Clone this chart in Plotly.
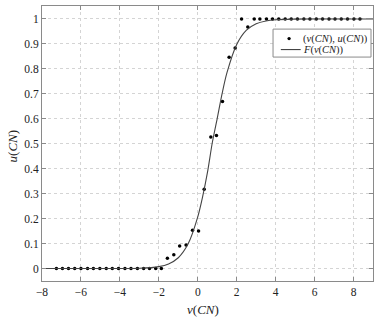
import plotly.graph_objects as go

# observed data points (v(CN), u(CN))
v_pts = [-7.26, -6.95, -6.64, -6.32, -6.00, -5.66, -5.36, -5.03, -4.70, -4.39,
         -4.07, -3.74, -3.43, -3.10, -2.78, -2.48, -2.16, -1.87,
         -1.56, -1.23, -0.93, -0.60, -0.27, 0.04, 0.33,
         0.67, 0.96, 1.27, 1.61, 1.92, 2.25, 2.57,
         2.90, 3.19, 3.53, 3.84, 4.16, 4.49, 4.80, 5.12, 5.45, 5.76,
         6.09, 6.41, 6.74, 7.05, 7.37, 7.69, 8.02, 8.33]
u_pts = [0, 0, 0, 0, 0, 0, 0, 0, 0, 0,
         0, 0, 0, 0, 0, 0, 0, 0,
         0.041, 0.055, 0.090, 0.094, 0.153, 0.150, 0.318,
         0.527, 0.533, 0.669, 0.847, 0.884, 1.0, 0.968,
         1, 1, 1, 1, 1, 1, 1, 1, 1, 1,
         1, 1, 1, 1, 1, 1, 1, 1]

# fitted curve F(v(CN))
v_fit = [-8, -5, -3, -2, -1.5, -1, -0.5, 0, 0.25, 0.5, 0.75, 1, 1.25, 1.5,
         2, 2.5, 3, 3.5, 4, 5, 6, 9]
f_fit = [0, 0.0001, 0.0013, 0.0077, 0.0183, 0.0431, 0.0979, 0.207, 0.288, 0.386,
         0.506, 0.602, 0.701, 0.785, 0.898, 0.955, 0.981, 0.992, 0.997, 0.9994,
         0.9999, 1.0]

x_ticks = [-8, -6, -4, -2, 0, 2, 4, 6, 8]
y_ticks = [0, 0.1, 0.2, 0.3, 0.4, 0.5, 0.6, 0.7, 0.8, 0.9, 1]

legend_labels = ["(<i>v</i>(<i>CN</i>), <i>u</i>(<i>CN</i>))", "<i>F</i>(<i>v</i>(<i>CN</i>))"]

serif = "Liberation Serif"
txt = "#222222"
frame = "#8a8a8a"

fig = go.Figure()
fig.add_trace(go.Scatter(
    x=v_pts, y=u_pts, mode="markers",
    marker=dict(color="black", size=3.5),
    name=legend_labels[0]))
fig.add_trace(go.Scatter(
    x=v_fit, y=f_fit, mode="lines",
    line=dict(color="#444444", width=1.1, shape="spline", smoothing=0.8),
    name=legend_labels[1]))

axis_common = dict(
    showline=True, linecolor=frame, linewidth=1, mirror="ticks",
    ticks="inside", ticklen=4, tickcolor=frame,
    showgrid=True, gridcolor="#d4d4d4", griddash="dot", gridwidth=1,
    zeroline=False,
    tickfont=dict(family=serif, size=11.5, color=txt),
)

# manual legend box (paper coordinates)
lx0, lx1, ly0, ly1 = 0.698, 0.994, 0.8143, 0.916
row1, row2 = 0.8817, 0.8416
text_x = 0.785

shapes = [
    dict(type="rect", xref="paper", yref="paper", x0=lx0, x1=lx1, y0=ly0, y1=ly1,
         line=dict(color=frame, width=1), fillcolor="white", layer="above"),
    dict(type="circle", xref="paper", yref="paper",
         x0=0.7465 - 0.0050, x1=0.7465 + 0.0050, y0=row1 - 0.0060, y1=row1 + 0.0060,
         line=dict(color="black", width=0), fillcolor="black", layer="above"),
    dict(type="line", xref="paper", yref="paper", x0=0.7215, x1=0.7815, y0=row2, y1=row2,
         line=dict(color="#444444", width=1.1), layer="above"),
]

annotations = [
    dict(text=legend_labels[0], xref="paper", yref="paper", x=text_x, y=row1,
         xanchor="left", yanchor="middle", showarrow=False, borderpad=0, height=11,
         font=dict(family=serif, size=10.5, color=txt)),
    dict(text=legend_labels[1], xref="paper", yref="paper", x=text_x, y=row2,
         xanchor="left", yanchor="middle", showarrow=False, borderpad=0, height=11,
         font=dict(family=serif, size=10.5, color=txt)),
    dict(text="<i>v</i>(<i>CN</i>)", xref="paper", yref="paper", x=0.486, y=-0.103,
         xanchor="center", yanchor="middle", showarrow=False,
         font=dict(family=serif, size=13, color=txt)),
    dict(text="<i>u</i>(<i>CN</i>)", xref="paper", yref="paper", x=-0.09, y=0.49,
         xanchor="center", yanchor="middle", showarrow=False, textangle=-90,
         font=dict(family=serif, size=13, color=txt)),
]

fig.update_layout(
    width=389, height=322,
    margin=dict(l=42, r=16, t=6, b=41),
    paper_bgcolor="white", plot_bgcolor="white",
    font=dict(family=serif, color=txt),
    xaxis=dict(range=[-8, 9], tickvals=x_ticks, **axis_common),
    yaxis=dict(range=[-0.05, 1.052], tickvals=y_ticks, **axis_common),
    showlegend=False,
    shapes=shapes,
    annotations=annotations,
)

fig.write_html("out.html")
